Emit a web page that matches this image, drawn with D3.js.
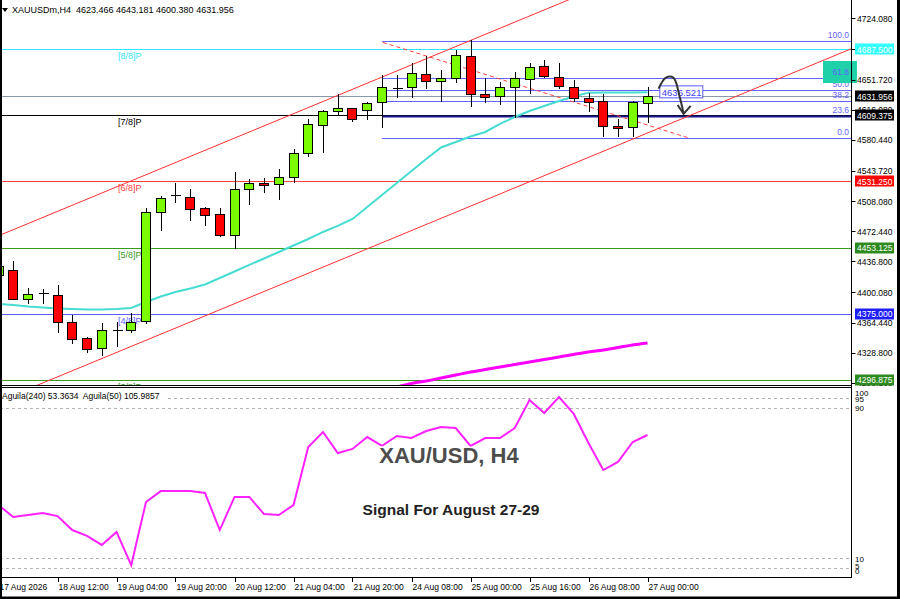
<!DOCTYPE html>
<html><head><meta charset="utf-8">
<script src="https://cdn.jsdelivr.net/npm/d3@7/dist/d3.min.js"></script>
<style>body{margin:0;background:#fff}svg{display:block}text{font-family:"Liberation Sans",Arial,sans-serif}</style>
</head><body><svg id="c" width="900" height="599"></svg>
<script>
// ---------- DATA ----------
const opens  = [4420.6,4426.6,4392.2,4399.0,4397.0,4365.4,4345.8,4334.1,4355.6,4355.6,4365.4,4494.8,4515.2,4512.5,4500.2,4492.4,4467.9,4522.3,4529.8,4527.9,4536.1,4564.5,4598.8,4614.5,4617.7,4616.5,4624.3,4642.1,4642.5,4657.9,4649.1,4653.2,4679.5,4634.6,4631.4,4642.5,4653.2,4667.7,4654.3,4642.5,4629.9,4626.3,4597.1,4595.2,4623.466];
const highs  = [4437.0,4437.6,4404.9,4403.7,4408.8,4373.4,4347.7,4363.5,4365.4,4376.1,4499.5,4514.0,4529.1,4522.3,4501.0,4499.5,4542.8,4533.7,4534.9,4545.6,4569.6,4604.7,4615.7,4634.2,4618.4,4625.5,4657.1,4657.1,4670.9,4679.5,4663.0,4686.6,4698.4,4653.2,4649.1,4661.0,4670.9,4674.8,4671.6,4651.1,4636.1,4634.6,4604.7,4626.0,4643.181];
const lows   = [4415.0,4391.0,4386.4,4386.4,4351.7,4338.8,4328.1,4324.9,4335.2,4351.7,4362.7,4472.6,4505.4,4484.9,4478.6,4465.9,4451.0,4503.4,4518.0,4509.3,4529.8,4559.8,4564.5,4609.8,4601.9,4603.9,4594.8,4629.5,4629.5,4640.0,4625.5,4647.0,4618.9,4623.6,4621.6,4605.9,4634.2,4653.9,4640.0,4625.5,4613.7,4583.4,4584.0,4583.8,4600.380];
const closes = [4431.3,4391.9,4397.8,4399.0,4365.4,4345.8,4333.2,4355.6,4355.6,4365.4,4494.8,4511.3,4515.2,4498.7,4491.6,4467.1,4522.3,4529.8,4527.9,4536.1,4564.5,4598.8,4614.9,4617.7,4604.7,4624.3,4642.5,4642.1,4659.1,4649.1,4653.2,4680.7,4634.6,4630.7,4642.5,4653.2,4666.9,4656.2,4643.2,4629.5,4625.5,4596.7,4595.2,4625.1,4631.956];
const maFast = [4386.4,4385.2,4383.4,4382.2,4381.0,4380.4,4379.9,4379.9,4380.4,4381.6,4388.7,4395.2,4400.5,4404.7,4409.4,4417.1,4424.8,4432.5,4440.1,4447.8,4455.5,4463.2,4471.5,4478.6,4486.8,4501.0,4515.2,4529.4,4543.6,4557.8,4571.4,4577.9,4584.4,4589.7,4599.2,4607.4,4614.5,4620.4,4626.3,4631.7,4636.2,4636.4,4636.5,4636.5,4636.521];
const maSlowFirstBar = 27;
const maSlow = [4288.2,4292.4,4295.3,4298.9,4302.4,4306.0,4308.9,4311.9,4314.8,4317.8,4320.7,4323.7,4326.7,4329.6,4332.0,4334.9,4337.9,4340.3];
const aguila = [38.3,31.9,33.0,34.1,32.4,25.0,21.9,17.1,24.0,6.4,39.9,45.7,45.7,45.7,44.7,25.0,42.6,42.6,33.5,33.0,38.3,69.1,77.1,65.9,68.1,74.4,69.7,75.0,73.9,77.6,79.7,79.2,69.7,73.9,73.9,79.2,94.1,87.2,95.7,86.7,71.3,56.9,61.2,71.8,75.5];
const tickBars   = [0,4,8,12,16,20,24,28,32,36,40,44];
const tickLabels = ["17 Aug 2026","18 Aug 12:00","19 Aug 04:00","19 Aug 20:00","20 Aug 12:00","21 Aug 04:00","21 Aug 20:00","24 Aug 08:00","25 Aug 00:00","25 Aug 16:00","26 Aug 08:00","27 Aug 00:00"];
const priceTicks = [4724.08,4687.36,4651.72,4616.08,4580.44,4543.72,4508.08,4472.44,4436.80,4400.08,4364.44,4328.80,4293.16];
const murreyNames  = ["[8/8]P","[7/8]P","[6/8]P","[5/8]P","[4/8]P","[3/8]P"];
const murreyLevels = [4687.5,4609.375,4531.25,4453.125,4375.0,4296.875];
const fibRatios = [100,61.8,50,38.2,23.6,0];
const fibHigh = 4697.0, fibLow = 4582.0, fibFromBar = 26;
const channelUpper = [[15.69,4580.2],[28.80,4674.8]];
const channelLower = [[3.04,4293.3],[54.34,4663.0]];
const trendDashed  = [[26.07,4695.5],[46.88,4582.2]];
const arrowPath = [[44.75,4641],[45.25,4654],[45.75,4654],[46.2,4630],[46.45,4611]];
const zoneBars = [55.9,58.2], zonePrices = [4647.6,4673.6];
const objectLabel = "4636.521", objectLabelBar = 44.8;
const lastPrice = 4631.956;
const header = "XAUUSDm,H4  4623.466 4643.181 4600.380 4631.956";
const indName = "Aguila(240) 53.3634  Aguila(50) 105.9857";
const indLevels = [95,90,10,5];
const indTickLabels = [100,95,90,10,5,0];

// ---------- STYLE ----------
const murreyColors = ["#33e6ff","#000000","#ff4040","#3a9a1a","#5a5aff","#3a9a1a"];
const murreyBg     = ["#33ffff","#000000","#ff0000","#2d8a1e","#1e1eff","#2d8a1e"];
const fibColor = "#6464ff";

const svg = d3.select("#c");
const R = 851.5;
const x = d3.scaleLinear().domain([0,44]).range([-1.5,647.5]);
const y = d3.scaleLinear().domain([4290.6,4745.7]).range([385,0]);
const yi = d3.scaleLinear().domain([0,100]).range([577.1,388.9]);
const cx = v => Math.round(x(v)) + 0.5;
const cy = v => Math.round(y(v)) + 0.5;

svg.append("defs").append("clipPath").attr("id","mainClip")
  .append("rect").attr("x",0).attr("y",0).attr("width",R).attr("height",385);
svg.select("defs").append("clipPath").attr("id","indClip")
  .append("rect").attr("x",0).attr("y",389).attr("width",R).attr("height",188);

const main = svg.append("g").attr("clip-path","url(#mainClip)");

// Murrey lines
murreyLevels.forEach((v,k)=>{
  main.append("line").attr("x1",0).attr("x2",R).attr("y1",cy(v)).attr("y2",cy(v))
    .attr("stroke",murreyColors[k]).attr("stroke-width",1);
  main.append("text").attr("x",118).attr("y",y(v)+10).attr("font-size",9)
    .attr("fill",murreyColors[k]).text(murreyNames[k]);
});
// bid line
main.append("line").attr("x1",0).attr("x2",R).attr("y1",cy(lastPrice)).attr("y2",cy(lastPrice))
  .attr("stroke","#8899aa").attr("stroke-width",1);

// Fibonacci
fibRatios.forEach(r=>{
  const v = fibLow + (fibHigh-fibLow)*r/100;
  main.append("line").attr("x1",x(fibFromBar)).attr("x2",R).attr("y1",cy(v)).attr("y2",cy(v))
    .attr("stroke",r===23.6?"#1a1a8c":fibColor).attr("stroke-width",r===23.6?2:1);
  main.append("text").attr("x",849).attr("y",y(v)-3).attr("text-anchor","end")
    .attr("font-size",8.5).attr("fill",fibColor).text(r.toFixed(1));
});

// channel lines
function extLine(pts, b0, b1){
  const [a,b]=pts; const s=(b[1]-a[1])/(b[0]-a[0]);
  return [[b0, a[1]+(b0-a[0])*s],[b1, a[1]+(b1-a[0])*s]];
}
const ln = d3.line().x(d=>x(d[0])).y(d=>y(d[1]));
main.append("path").attr("d",ln(extLine(channelUpper,-2,70))).attr("stroke","#ff3030").attr("fill","none").attr("stroke-width",1);
main.append("path").attr("d",ln(extLine(channelLower,-2,70))).attr("stroke","#ff3030").attr("fill","none").attr("stroke-width",1);
main.append("path").attr("d",ln(trendDashed)).attr("stroke","#ff4040").attr("fill","none")
  .attr("stroke-width",1).attr("stroke-dasharray","4,3");

// MAs
main.append("path").datum(maFast).attr("d",d3.line().x((d,i)=>x(i)).y(d=>y(d)))
  .attr("fill","none").attr("stroke","#46dcd2").attr("stroke-width",2);
main.append("path").datum(maSlow).attr("d",d3.line().x((d,i)=>x(i+maSlowFirstBar)).y(d=>y(d)).curve(d3.curveMonotoneX))
  .attr("fill","none").attr("stroke","#ff00ff").attr("stroke-width",3);

// candles
const candles = main.append("g").attr("shape-rendering","crispEdges");
opens.forEach((o,i)=>{
  const c = closes[i];
  const g = candles.append("g");
  g.append("line").attr("x1",cx(i)).attr("x2",cx(i)).attr("y1",y(highs[i])).attr("y2",y(lows[i]))
    .attr("stroke","#000").attr("stroke-width",1);
  if (o===c){
    g.append("line").attr("x1",cx(i)-5).attr("x2",cx(i)+5).attr("y1",cy(o)).attr("y2",cy(o)).attr("stroke","#000");
  } else {
    const top = y(Math.max(o,c)), bot = y(Math.min(o,c));
    g.append("rect").attr("x",Math.round(x(i))-4.5).attr("y",Math.round(top)+0.5)
      .attr("width",9).attr("height",Math.max(1,Math.round(bot-top)))
      .attr("fill",c>o?"#7cfc00":"#ff0000").attr("stroke","#000").attr("stroke-width",1);
  }
});

// object label
main.append("rect").attr("x",x(objectLabelBar)+0.5).attr("y",y(4636.521)-6.5).attr("width",43).attr("height",12)
  .attr("fill","#fff").attr("stroke","#5a5aff");
main.append("text").attr("x",x(objectLabelBar)+2.5).attr("y",y(4636.521)+3.5).attr("font-size",9.5)
  .attr("fill","#3c3cff").text(objectLabel);

// arrow
const ap = arrowPath.map(d=>[x(d[0]),y(d[1])]);
main.append("path").attr("d",d3.line().curve(d3.curveCatmullRom)(ap)).attr("fill","none")
  .attr("stroke","#333").attr("stroke-width",2);
const tip = ap[ap.length-1];
main.append("path").attr("d",`M${tip[0]-6},${tip[1]-9}L${tip[0]},${tip[1]}L${tip[0]+7},${tip[1]-8}`)
  .attr("fill","none").attr("stroke","#333").attr("stroke-width",2);

// zone (drawn over axis edge as in the reference)
svg.append("rect").attr("x",x(zoneBars[0])).attr("y",y(zonePrices[1]))
  .attr("width",x(zoneBars[1])-x(zoneBars[0])).attr("height",y(zonePrices[0])-y(zonePrices[1]))
  .attr("fill","#1fd1a8");
svg.append("text").attr("x",849).attr("y",y(fibLow+(fibHigh-fibLow)*0.618)-3).attr("text-anchor","end")
  .attr("font-size",8.5).attr("fill",fibColor).text("61.8");

// header
svg.append("path").attr("d","M2,8L8,8L5,12Z").attr("fill","#000");
svg.append("text").attr("x",12).attr("y",13).attr("font-size",9).attr("fill","#000")
  .attr("xml:space","preserve").style("white-space","pre").text(header);

// price axis
const ax = svg.append("g");
priceTicks.forEach(v=>{
  ax.append("line").attr("x1",R).attr("x2",R+4).attr("y1",cy(v)).attr("y2",cy(v)).attr("stroke","#000");
  ax.append("text").attr("x",857).attr("y",y(v)+3.5).attr("font-size",8.5).attr("fill","#000").text(v.toFixed(3));
});
// price labels
const labelVals = [...murreyLevels, lastPrice];
const labelBg = [...murreyBg, "#000000"];
labelVals.forEach((v,k)=>{
  ax.append("rect").attr("x",855).attr("y",Math.round(y(v))-5.5).attr("width",39).attr("height",11).attr("fill",labelBg[k]);
  ax.append("text").attr("x",857).attr("y",y(v)+3.5).attr("font-size",8.5).attr("fill","#fff").text(v.toFixed(3));
});

// frames
svg.append("line").attr("x1",R).attr("x2",R).attr("y1",0).attr("y2",578).attr("stroke","#000");
svg.append("line").attr("x1",0).attr("x2",R).attr("y1",385.5).attr("y2",385.5).attr("stroke","#000");
svg.append("line").attr("x1",0).attr("x2",R).attr("y1",387.5).attr("y2",387.5).attr("stroke","#000");
svg.append("line").attr("x1",0).attr("x2",R).attr("y1",577.5).attr("y2",577.5).attr("stroke","#000");

// indicator panel
const ind = svg.append("g").attr("clip-path","url(#indClip)");
indLevels.forEach(v=>{
  ind.append("line").attr("x1",0).attr("x2",R).attr("y1",Math.round(yi(v))+0.5).attr("y2",Math.round(yi(v))+0.5)
    .attr("stroke","#b4b4b4").attr("stroke-dasharray","3,3");
});
ind.append("rect").attr("x",0).attr("y",390).attr("width",165).attr("height",11).attr("fill","#fff");
ind.append("text").attr("x",2).attr("y",399).attr("font-size",8.5).attr("fill","#000")
  .style("white-space","pre").text(indName);
ind.append("path").datum(aguila).attr("d",d3.line().x((d,i)=>x(i)).y(d=>yi(d)))
  .attr("fill","none").attr("stroke","#ff22ff").attr("stroke-width",2);
indTickLabels.forEach(v=>{
  let yy = yi(v)+3.5; if (v===0) yy = 574; if (v===5) yy = 569; if (v===100) yy = 396;
  svg.append("text").attr("x",855).attr("y",yy).attr("font-size",8).attr("fill","#000").text(v);
});

// big titles
svg.append("text").attr("x",449).attr("y",463).attr("text-anchor","middle")
  .attr("font-size",22).attr("font-weight","bold").attr("fill","#4d4d4d")
  .attr("stroke","#fff").attr("stroke-width",3).attr("paint-order","stroke").text("XAU/USD, H4");
svg.append("text").attr("x",451).attr("y",515).attr("text-anchor","middle")
  .attr("font-size",15.5).attr("font-weight","bold").attr("fill","#222")
  .attr("stroke","#fff").attr("stroke-width",3).attr("paint-order","stroke").text("Signal For August 27-29");

// time axis
tickBars.forEach((b,k)=>{
  svg.append("line").attr("x1",cx(b)).attr("x2",cx(b)).attr("y1",578).attr("y2",582).attr("stroke","#000");
  svg.append("text").attr("x",x(b)+1).attr("y",590).attr("font-size",8.5).attr("fill","#000").text(tickLabels[k]);
});

// outer border
svg.append("line").attr("x1",1).attr("x2",1).attr("y1",0).attr("y2",599).attr("stroke","#000").attr("stroke-width",2);
svg.append("line").attr("x1",0).attr("x2",900).attr("y1",598).attr("y2",598).attr("stroke","#000").attr("stroke-width",3);
svg.append("line").attr("x1",898.5).attr("x2",898.5).attr("y1",0).attr("y2",599).attr("stroke","#000").attr("stroke-width",3);
</script></body></html>
